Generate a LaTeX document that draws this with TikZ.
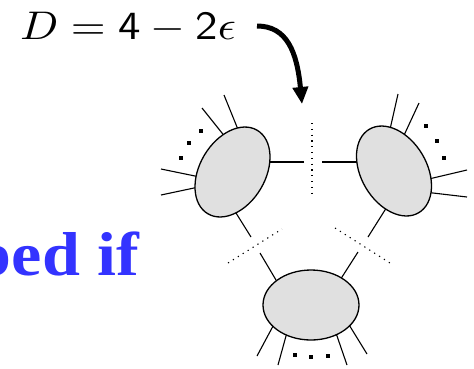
\documentclass[tikz,border=0pt]{standalone}
\usepackage{fontspec}
\usetikzlibrary{shapes.geometric,calc,arrows.meta}
\newfontfamily\timesfam{Liberation Serif}
\definecolor{blobgray}{RGB}{224,224,224}
\definecolor{txtblue}{RGB}{51,51,255}
\tikzset{
  leg/.style={line width=1.1pt},
  blob/.style={ellipse, draw, line width=1.3pt, fill=blobgray, inner sep=0pt},
  cutline/.style={line width=1.1pt, dash pattern=on 1.2pt off 4.6pt},
  dotsq/.style={rectangle, fill=black, inner sep=0pt, minimum size=4pt},
}
\newcommand\drawleg[2]{\draw[leg] #1 -- ($#1!1.6!#2$);}
\begin{document}
\begin{tikzpicture}[x=1pt,y=-1pt]
\useasboundingbox (0,0) rectangle (474,368);
\clip (0,0) rectangle (474,368);
% texts
\node[anchor=base west, inner sep=0pt, font=\fontsize{10}{10}\selectfont] (eq) at (20,39)
  {\scalebox{4.48}[4]{$D = \mathsf{4} - \mathsf{2}\epsilon$}};
\node[anchor=base east, inner sep=0pt, text=txtblue, font=\timesfam\bfseries\fontsize{62}{62}\selectfont] (cond) at (139,275)
  {\scalebox{1.1}[1]{ped if}};
% arrow
\coordinate (astart) at (257,26);
\coordinate (atip) at (302,104);
\draw[line width=5pt, -{Triangle[length=17pt,width=15pt]}] (astart) .. controls (287,26) and (297,52) .. (atip);
% legs of left blob
\drawleg{(224,95)}{(237,127)}
\drawleg{(202,108)}{(222,133)}
\drawleg{(161,169)}{(195,176)}
\drawleg{(161,195)}{(194,188)}
\drawleg{(304,162)}{(270,162)}
\drawleg{(251,237)}{(236,213)}
% legs of right blob
\drawleg{(398,94)}{(391,125)}
\drawleg{(419,103)}{(406,131)}
\drawleg{(467,170)}{(433,178)}
\drawleg{(467,197)}{(433,193)}
\drawleg{(322,162)}{(355,162)}
\drawleg{(368,237)}{(385,210)}
% legs of bottom blob
\drawleg{(260,253)}{(276,280)}
\drawleg{(358,252)}{(342,277)}
\drawleg{(257,356)}{(272,328)}
\drawleg{(278,365)}{(286,336)}
\drawleg{(347,365)}{(337,336)}
\drawleg{(367,354)}{(351,328)}
% blobs
\node[blob, minimum width=97pt, minimum height=65.6pt, rotate=59.4] (L) at (232.5,172) {};
\node[blob, minimum width=97pt, minimum height=65.6pt, rotate=-59.4] (R) at (394,171) {};
\node[blob, minimum width=96pt, minimum height=70pt] (B) at (311,305) {};
% cuts
\coordinate (c1a) at (312,123); \coordinate (c1b) at (312,197);
\coordinate (c2a) at (228,263); \coordinate (c2b) at (282,229);
\coordinate (c3a) at (335,228); \coordinate (c3b) at (390,263);
\draw[cutline] (c1a) -- (c1b);
\draw[cutline] (c2a) -- (c2b);
\draw[cutline] (c3a) -- (c3b);
% dots
\node[dotsq] (d1) at (201,131) {};
\node[dotsq] (d2) at (189,143) {};
\node[dotsq] (d3) at (181,158) {};
\node[dotsq] (d4) at (426,126) {};
\node[dotsq] (d5) at (437,141) {};
\node[dotsq] (d6) at (444,158) {};
\node[dotsq] (d7) at (295,355) {};
\node[dotsq] (d8) at (311,357) {};
\node[dotsq] (d9) at (328,356) {};
\end{tikzpicture}
\end{document}
